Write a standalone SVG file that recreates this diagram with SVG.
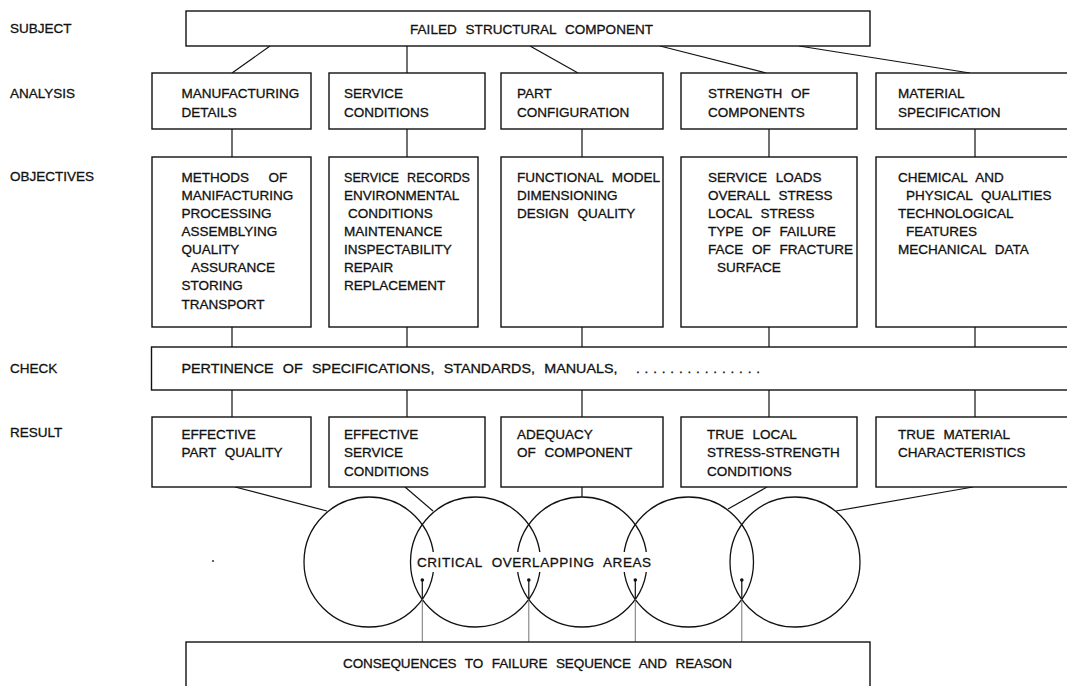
<svg xmlns="http://www.w3.org/2000/svg" width="1067" height="686" viewBox="0 0 1067 686">
<style>
.bx{fill:#fff;stroke:#111;stroke-width:1.4}
.cn{fill:none;stroke:#111;stroke-width:1.2}
.th{fill:none;stroke:#666;stroke-width:0.9}
.ci{fill:none;stroke:#111;stroke-width:1.3}
text{font-family:"Liberation Sans",Arial,sans-serif;font-size:13.5px;fill:#111;stroke:#111;stroke-width:0.3;word-spacing:5px}
</style>
<rect width="1067" height="686" fill="#fff"/>
<g id="labels">
<text x="10" y="33">SUBJECT</text>
<text x="10" y="98">ANALYSIS</text>
<text x="10" y="181">OBJECTIVES</text>
<text x="10" y="373">CHECK</text>
<text x="10" y="437">RESULT</text>
</g>
<g id="connectors">
<line class="cn" x1="270" y1="46" x2="232" y2="73"/>
<line class="cn" x1="407" y1="46" x2="407" y2="73"/>
<line class="cn" x1="530" y1="46" x2="578" y2="73"/>
<line class="cn" x1="660" y1="46" x2="766" y2="73"/>
<line class="cn" x1="799" y1="46" x2="970" y2="73"/>
<path class="cn" d="M232 129V157M407 129V157M582 129V157M769 129V157M975 129V157"/>
<path class="cn" d="M232 327V347M407 327V347M582 327V347M769 327V347M975 327V347"/>
<path class="cn" d="M232 390V417M407 390V417M582 390V417M769 390V417M975 390V417"/>
<line class="cn" x1="235" y1="487" x2="327" y2="511"/>
<line class="cn" x1="405" y1="487" x2="433" y2="511"/>
<line class="cn" x1="582" y1="487" x2="582" y2="497"/>
<line class="cn" x1="767" y1="487" x2="728" y2="509"/>
<line class="cn" x1="973" y1="487" x2="836" y2="511"/>
</g>
<g id="subject">
<rect class="bx" x="186" y="11" width="684" height="35"/>
<text x="410" y="34" textLength="243" lengthAdjust="spacing">FAILED STRUCTURAL COMPONENT</text>
</g>
<g id="analysis-1"><rect class="bx" x="152" y="73" width="159" height="56"/><text x="181.5" y="98">MANUFACTURING</text><text x="181.5" y="117">DETAILS</text></g>
<g id="analysis-2"><rect class="bx" x="329" y="73" width="156" height="56"/><text x="344" y="98">SERVICE</text><text x="344" y="117">CONDITIONS</text></g>
<g id="analysis-3"><rect class="bx" x="501" y="73" width="162" height="56"/><text x="517" y="98">PART</text><text x="517" y="117">CONFIGURATION</text></g>
<g id="analysis-4"><rect class="bx" x="681" y="73" width="176" height="56"/><text x="708" y="98">STRENGTH OF</text><text x="708" y="117">COMPONENTS</text></g>
<g id="analysis-5"><rect class="bx" x="876" y="73" width="210" height="56"/><text x="898" y="98">MATERIAL</text><text x="898" y="117">SPECIFICATION</text></g>

<g id="objectives-1"><rect class="bx" x="152" y="157" width="159" height="170"/>
<text x="181.5" y="181.5">METHODS</text><text x="268.5" y="181.5">OF</text>
<text x="181.5" y="199.7">MANIFACTURING</text>
<text x="181.5" y="217.8">PROCESSING</text>
<text x="181.5" y="236">ASSEMBLYING</text>
<text x="181.5" y="254.1">QUALITY</text>
<text x="191" y="272.3">ASSURANCE</text>
<text x="181.5" y="290.4">STORING</text>
<text x="181.5" y="308.6">TRANSPORT</text>
</g>
<g id="objectives-2"><rect class="bx" x="329" y="157" width="149" height="170"/>
<text x="344" y="181.5" textLength="126" lengthAdjust="spacingAndGlyphs">SERVICE RECORDS</text>
<text x="344" y="199.7">ENVIRONMENTAL</text>
<text x="348" y="217.8">CONDITIONS</text>
<text x="344" y="236">MAINTENANCE</text>
<text x="344" y="254.1">INSPECTABILITY</text>
<text x="344" y="272.3">REPAIR</text>
<text x="344" y="290.4">REPLACEMENT</text>
</g>
<g id="objectives-3"><rect class="bx" x="501" y="157" width="162" height="170"/>
<text x="517" y="181.5" textLength="143" lengthAdjust="spacing">FUNCTIONAL MODEL</text>
<text x="517" y="199.7">DIMENSIONING</text>
<text x="517" y="217.8">DESIGN QUALITY</text>
</g>
<g id="objectives-4"><rect class="bx" x="681" y="157" width="176" height="170"/>
<text x="708" y="181.5">SERVICE LOADS</text>
<text x="708" y="199.7">OVERALL STRESS</text>
<text x="708" y="217.8">LOCAL STRESS</text>
<text x="708" y="236">TYPE OF FAILURE</text>
<text x="708" y="254.1">FACE OF FRACTURE</text>
<text x="717" y="272.3">SURFACE</text>
</g>
<g id="objectives-5"><rect class="bx" x="876" y="157" width="210" height="170"/>
<text x="898" y="181.5">CHEMICAL AND</text>
<text x="906" y="199.7">PHYSICAL QUALITIES</text>
<text x="898" y="217.8">TECHNOLOGICAL</text>
<text x="906" y="236">FEATURES</text>
<text x="898" y="254.1">MECHANICAL DATA</text>
</g>

<g id="check"><rect class="bx" x="151.5" y="347" width="935" height="43"/>
<text x="181.5" y="373" textLength="436" lengthAdjust="spacingAndGlyphs">PERTINENCE OF SPECIFICATIONS, STANDARDS, MANUALS,</text>
<text x="636" y="373" textLength="124" lengthAdjust="spacing">...............</text>
</g>

<g id="result-1"><rect class="bx" x="152" y="417" width="159" height="70"/><text x="181.5" y="438.5">EFFECTIVE</text><text x="181.5" y="457">PART QUALITY</text></g>
<g id="result-2"><rect class="bx" x="329" y="417" width="156" height="70"/><text x="344" y="438.5">EFFECTIVE</text><text x="344" y="457">SERVICE</text><text x="344" y="476">CONDITIONS</text></g>
<g id="result-3"><rect class="bx" x="501" y="417" width="162" height="70"/><text x="517" y="438.5">ADEQUACY</text><text x="517" y="457">OF COMPONENT</text></g>
<g id="result-4"><rect class="bx" x="681" y="417" width="176" height="70"/><text x="707" y="438.5">TRUE LOCAL</text><text x="707" y="457">STRESS-STRENGTH</text><text x="707" y="476">CONDITIONS</text></g>
<g id="result-5"><rect class="bx" x="876" y="417" width="210" height="70"/><text x="898" y="438.5">TRUE MATERIAL</text><text x="898" y="457">CHARACTERISTICS</text></g>

<g id="circles">
<circle class="ci" cx="369" cy="562" r="65"/>
<circle class="ci" cx="475.5" cy="562" r="65"/>
<circle class="ci" cx="582" cy="562" r="65"/>
<circle class="ci" cx="688.5" cy="562" r="65"/>
<circle class="ci" cx="795" cy="562" r="65"/>
<rect x="414" y="552" width="240" height="20" fill="#fff"/>
<text x="417" y="567" textLength="234" lengthAdjust="spacing">CRITICAL OVERLAPPING AREAS</text>
</g>
<g id="pointers">
<path class="cn" d="M422.3 580V599M528.8 580V599M635.3 580V599M741.8 580V599"/>
<path class="th" d="M422.3 599V642M528.8 599V642M635.3 599V642M741.8 599V642"/>
<g fill="#111">
<circle cx="422.3" cy="580" r="1.8"/><circle cx="528.8" cy="580" r="1.8"/><circle cx="635.3" cy="580" r="1.8"/><circle cx="741.8" cy="580" r="1.8"/>
</g>
</g>
<circle cx="213" cy="561" r="1" fill="#333"/>
<g id="consequences"><rect class="bx" x="186" y="642" width="684" height="60"/>
<text x="343" y="668" textLength="389" lengthAdjust="spacing">CONSEQUENCES TO FAILURE SEQUENCE AND REASON</text>
</g>
</svg>
